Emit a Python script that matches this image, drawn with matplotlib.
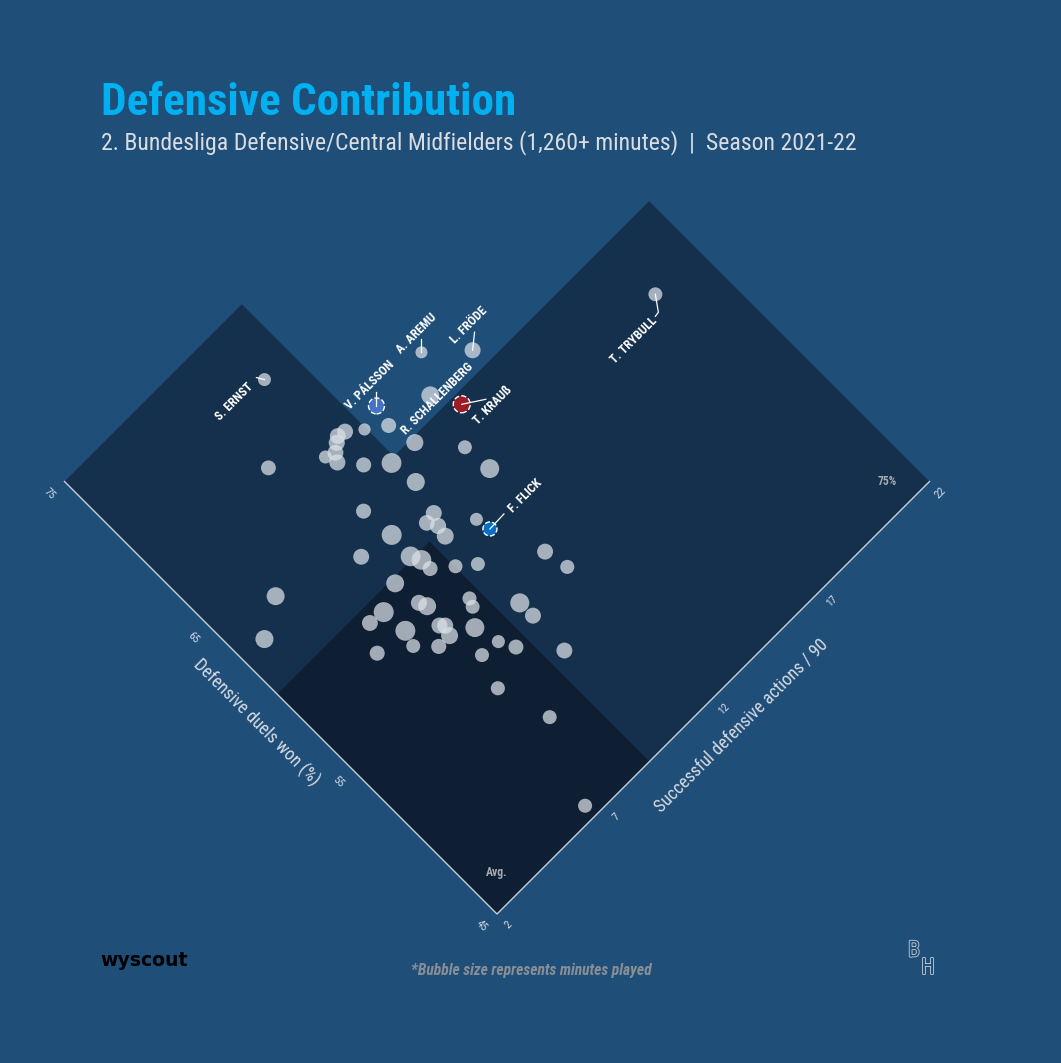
import numpy as np
import matplotlib
matplotlib.use("Agg")
import matplotlib.pyplot as plt
from matplotlib import font_manager
from matplotlib.transforms import Affine2D, IdentityTransform
from matplotlib.patches import Polygon
import matplotlib.patheffects as pe

names_installed = {f.name for f in font_manager.fontManager.ttflist}
COND = next(
    (n for n in ["Roboto Condensed", "Liberation Sans Narrow", "DejaVu Sans"] if n in names_installed),
    "DejaVu Sans",
)
plt.rcParams.update({"font.family": [COND, "DejaVu Sans"], "font.stretch": "condensed"})

BG = "#1f4e79"
DARK = "#15304c"
DARKEST = "#0e1f33"

# ---- data --------------------------------------------------------------
players = ["S. ERNST", "V. PÁLSSON", "A. AREMU", "L. FRÖDE", "R. SCHALLENBERG",
           "T. KRAUß", "T. TRYBULL", "F. FLICK"] + [""] * 56

def_actions = [8.98, 10.96, 13.24, 14.47, 12.45, 12.97, 19.99, 10.74,
               10.14, 10.79, 9.64, 9.37, 9.19, 8.60, 8.93, 8.75,
               9.30, 9.99, 11.00, 12.05, 12.13, 7.03, 10.11, 8.23,
               9.81, 9.42, 9.61, 9.54, 8.33, 10.65, 11.49, 11.65,
               7.12, 8.27, 8.44, 8.44, 9.08, 9.65, 7.29, 7.39,
               7.50, 8.66, 8.54, 6.36, 9.72, 9.73, 5.79, 6.43,
               7.34, 7.47, 7.34, 8.11, 6.26, 6.84, 8.33, 8.61,
               5.26, 7.64, 9.65, 7.24, 7.77, 6.54, 4.23, 2.98]

duels_won = [71.6, 66.8, 67.1, 65.4, 65.3, 63.9, 61.0, 58.6,
             66.4, 65.7, 67.0, 67.1, 66.9, 66.8, 66.6, 66.2,
             65.2, 64.3, 64.2, 62.3, 60.7, 68.4, 62.8, 63.6,
             61.1, 61.0, 60.5, 59.9, 61.8, 59.4, 55.9, 54.6,
             62.1, 60.4, 59.9, 59.3, 58.5, 57.8, 60.0, 58.5,
             58.1, 56.9, 56.5, 59.4, 55.0, 54.1, 59.5, 58.0,
             57.0, 56.8, 56.3, 55.7, 57.2, 56.3, 54.4, 53.6,
             58.2, 54.5, 51.8, 52.8, 50.0, 45.7, 63.7, 62.6]

minutes = [1480, 2150, 1270, 2170, 2600, 2380, 1700, 1720,
           1300, 1930, 2150, 2120, 2180, 1490, 2140, 2200,
           1950, 3020, 2400, 1690, 2830, 1910, 2620, 1940,
           2160, 2100, 2190, 2370, 3050, 1480, 2150, 1730,
           2140, 3000, 2980, 1920, 1700, 1710, 2590, 2170,
           2610, 1720, 1690, 3060, 2850, 2150, 2130, 3040,
           2160, 2180, 2390, 2820, 1700, 1950, 1500, 1920,
           1940, 1710, 2140, 1730, 1700, 1720, 2600, 2620]

x_range = (2, 22)
y_range = (45, 75)
x_ticks = [2, 7, 12, 17, 22]
y_ticks = [45, 55, 65, 75]
x_avg, y_avg = 9.05, 60.25
x_p75, y_p75 = 10.2, 64.45

highlight = {"V. PÁLSSON": "#4472c4", "T. KRAUß": "#9c1c24", "F. FLICK": "#0a6fc2"}

# label layout: text offset, leader polyline (pixels, y up)
label_style = {
    "S. ERNST": ((-30, -22), [(0, 0), (-8, 2)]),
    "V. PÁLSSON": ((-7, 21), [(0, 0), (0, 14)]),
    "A. AREMU": ((-5, 19), [(0, 0), (0, 13)]),
    "L. FRÖDE": ((-4, 25), [(0, 0), (2, 18)]),
    "R. SCHALLENBERG": ((7, -3), []),
    "T. KRAUß": ((31, -1), [(0, 0), (24, 5)]),
    "T. TRYBULL": ((-22, -46), [(0, 0), (3, -18), (0, -22)]),
    "F. FLICK": ((35, 33), [(0, 0), (14, 15)]),
}

# ---- figure ---------------------------------------------------------------
W, H = 1061, 1063
fig = plt.figure(figsize=(W / 100, H / 100), dpi=100, facecolor=BG)
ax = fig.add_axes([0, 0, 1, 1])
ax.set_xlim(0, W)
ax.set_ylim(0, H)
ax.set_facecolor(BG)
ax.axis("off")

# rotated frame: x runs up-right, y runs up-left from the bottom vertex
L = 432.5
tr = (
    Affine2D()
    .translate(-x_range[0], -y_range[0])
    .scale(1 / (x_range[1] - x_range[0]), 1 / (y_range[1] - y_range[0]))
    .rotate_deg(45)
    .scale(L * np.sqrt(2))
    .translate(497, H - 914)
    + ax.transData
)

x0, x1 = x_range
y0, y1 = y_range
ax.add_patch(Polygon([(x0, y0), (x1, y0), (x1, y_p75), (x_p75, y_p75), (x_p75, y1), (x0, y1)],
                     closed=True, facecolor=DARK, edgecolor="none", transform=tr, zorder=1))
ax.add_patch(Polygon([(x0, y0), (x_avg, y0), (x_avg, y_avg), (x0, y_avg)],
                     closed=True, facecolor=DARKEST, edgecolor="none", transform=tr, zorder=1))
ax.plot([x0, x0, x1], [y1, y0, y0], color="#c9ced6", lw=1.0, transform=tr, zorder=2,
        solid_joinstyle="miter")

for v in y_ticks:
    ax.annotate(str(v), (x0, v), xycoords=tr, xytext=(-15, -12), textcoords="offset pixels",
                rotation=-45, ha="center", va="center", rotation_mode="anchor",
                fontsize=8, color="#d6dbe2")
for v in x_ticks:
    ax.annotate(str(v), (v, y0), xycoords=tr, xytext=(11, -11), textcoords="offset pixels",
                rotation=45, ha="center", va="center", rotation_mode="anchor",
                fontsize=8, color="#d6dbe2")

ax.annotate("Defensive duels won (%)", (x0, (y0 + y1) / 2), xycoords=tr, xytext=(-25, -25),
            textcoords="offset pixels", rotation=-45, ha="center", va="center",
            rotation_mode="anchor", fontsize=12.8, color="#d6dbe2")
ax.annotate("Successful defensive actions / 90", ((x0 + x1) / 2, y0), xycoords=tr,
            xytext=(28, -28), textcoords="offset pixels", rotation=45, ha="center",
            va="center", rotation_mode="anchor", fontsize=12.8, color="#d6dbe2")

ax.annotate("Avg.", (x0, y0), xycoords=tr, xytext=(0, 42), textcoords="offset pixels",
            ha="center", va="center", fontsize=8.5, fontweight="bold", color="#a6aab0")
ax.annotate("75%", (x1, y0), xycoords=tr, xytext=(-42, 0), textcoords="offset pixels",
            ha="center", va="center", fontsize=8.5, fontweight="bold", color="#a6aab0")

# bubbles
m = np.array(minutes)
r_px = 6 + (m - 1260) / 450
sizes = (2 * r_px * 0.72) ** 2
is_hl = np.array([p in highlight for p in players])
xs = np.array(def_actions)
ys = np.array(duels_won)
ax.scatter(xs[~is_hl], ys[~is_hl], s=sizes[~is_hl], transform=tr, color="#dde2e8",
           alpha=0.72, edgecolors="none", zorder=3)
for i in np.where(is_hl)[0]:
    ax.scatter([xs[i]], [ys[i]], s=[sizes[i]], transform=tr, color=highlight[players[i]],
               edgecolors="white", linewidths=1.0, linestyles="--", zorder=4)

# labels and leader lines
for i, name in enumerate(players):
    if not name:
        continue
    (tx, ty), leader = label_style[name]
    px, py = tr.transform((xs[i], ys[i]))
    if leader:
        lx = [px + a for a, b in leader]
        ly = [py + b for a, b in leader]
        ax.plot(lx, ly, color="white", lw=0.9, transform=IdentityTransform(), zorder=5)
    ax.annotate(name, (xs[i], ys[i]), xycoords=tr, xytext=(tx, ty), textcoords="offset pixels",
                rotation=45, ha="center", va="center", rotation_mode="anchor",
                fontsize=9, fontweight="bold", color="white", zorder=6)

# titles and footer
ax.text(101, H - 115, "Defensive Contribution", fontsize=32.5, fontweight="bold",
        color="#00b0f0", va="baseline", ha="left")
ax.text(101, H - 149, "2. Bundesliga Defensive/Central Midfielders (1,260+ minutes)  |  Season 2021-22",
        fontsize=17.1, color="#d9dde2", va="baseline", ha="left")
ax.text(100, H - 961, "wyscout", fontsize=13.6, fontweight="bold", color="black",
        va="center", ha="left", family="DejaVu Sans", stretch="normal")
ax.text(531, H - 971, "*Bubble size represents minutes played", fontsize=11.2,
        style="italic", fontweight="bold", color="#8a8f96", va="center", ha="center")
outline = [pe.withStroke(linewidth=1.2, foreground="#c8ced6")]
ax.text(914, H - 951, "B", fontsize=16, color=BG, ha="center", va="center",
        path_effects=outline)
ax.text(928, H - 968, "H", fontsize=16, color=BG, ha="center", va="center",
        path_effects=outline)

fig.savefig("out.png", dpi=100, facecolor=BG)
